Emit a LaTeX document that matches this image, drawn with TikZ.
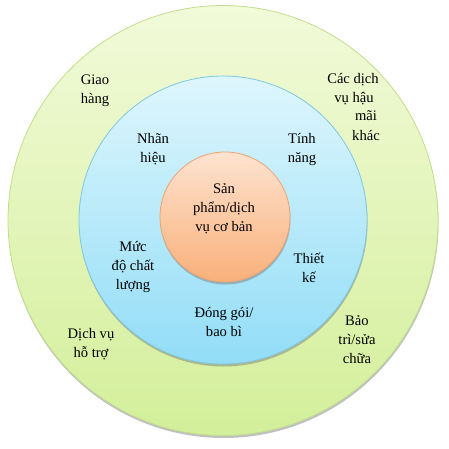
\documentclass[tikz,border=0pt]{standalone}
\usepackage{fontspec}
\setmainfont{Liberation Serif}
\usetikzlibrary{shadows}
\definecolor{gTop}{HTML}{F2FAD9}
\definecolor{gBot}{HTML}{D3EF9A}
\definecolor{gEdge}{HTML}{C2DE8C}
\definecolor{bTop}{HTML}{DEF6FD}
\definecolor{bBot}{HTML}{92DDF7}
\definecolor{bEdge}{HTML}{7EC8E2}
\definecolor{oTop}{HTML}{FDE3D0}
\definecolor{oBot}{HTML}{F9B07A}
\definecolor{oEdge}{HTML}{EFA273}
\begin{document}
\begin{tikzpicture}[x=1pt,y=1pt,
  ring/.style={circle,inner sep=0pt,line width=0.8pt,
    drop shadow={shadow xshift=0.5pt,shadow yshift=-2.5pt,opacity=0.45,fill=black!55}},
  lbl/.style={align=center,inner sep=0pt,font=\fontsize{14.6}{19}\selectfont}]
\useasboundingbox (0,0) rectangle (449,448);
\node[ring,minimum size=430pt,draw=gEdge,top color=gTop,bottom color=gBot] (outer) at (223,227.5) {};
\node[ring,minimum size=288pt,draw=bEdge,top color=bTop,bottom color=bBot] (middle) at (223,228) {};
\node[ring,minimum size=130pt,draw=oEdge,top color=oTop,bottom color=oBot] (inner) at (225,231) {};
\node[lbl] (core) at (224,239) {Sản\\phẩm/dịch\\vụ cơ bản};
\node[lbl] (brand) at (153,298.5) {Nhãn\\hiệu};
\node[lbl] (feat) at (302,298.5) {Tính\\năng};
\node[lbl] (qual) at (133,181) {Mức\\độ chất\\lượng};
\node[lbl] (design) at (309,180.5) {Thiết\\kế};
\node[lbl] (pack) at (224,126.5) {Đóng gói/\\bao bì};
\node[lbl] (deliv) at (95,357.5) {Giao\\hàng};
\node[lbl] (supp) at (91,103.5) {Dịch vụ\\hỗ trợ};
\node[lbl] (maint) at (357,108) {Bảo\\trì/sửa\\chữa};
\node[lbl] (after1) at (353,368) {Các dịch};
\node[lbl] (after2) at (354,349) {vụ hậu};
\node[lbl] (after3) at (366,332) {mãi};
\node[lbl] (after4) at (366,313) {khác};
\end{tikzpicture}
\end{document}
